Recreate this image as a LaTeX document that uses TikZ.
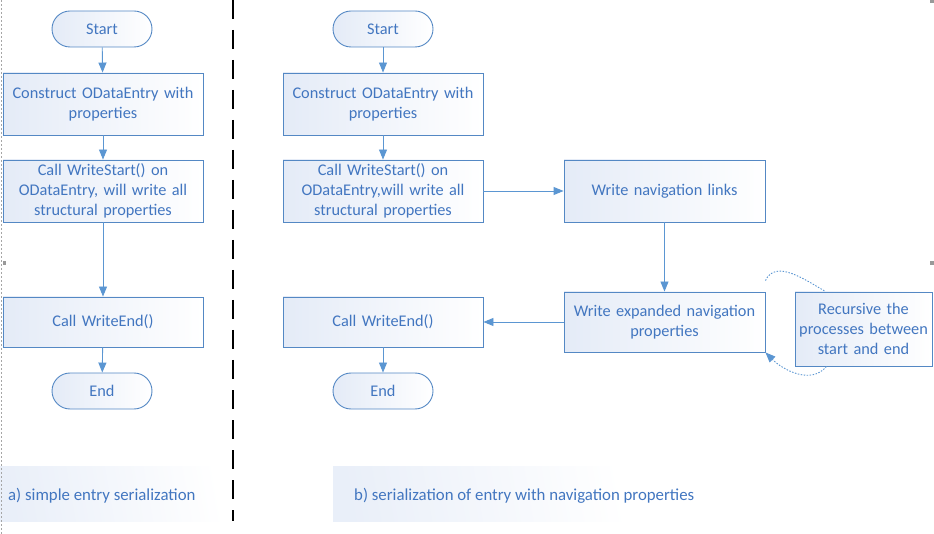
\documentclass[tikz,border=0pt]{standalone}
\usepackage{fontspec}
\setmainfont{Carlito}
\usetikzlibrary{arrows.meta}

\definecolor{flowblue}{RGB}{91,150,210}
\definecolor{boxline}{RGB}{84,136,196}
\definecolor{boxtext}{RGB}{66,118,192}
\definecolor{boxfill}{RGB}{228,235,247}

\begin{document}
\begin{tikzpicture}
		[x=1pt,y=-1pt,
		every node/.style={text=boxtext,font=\fontsize{16.3}{20}\selectfont,align=center,inner sep=0pt},
		shadedbox/.style={draw=boxline,line width=0.9pt,shading=axis,shading angle=135,left color=boxfill,right color=white},
		procbox/.style={shadedbox,minimum width=200pt,minimum height=62pt,text width=196pt},
		termbox/.style={shadedbox,rounded corners=18pt,minimum width=100pt,minimum height=36pt},
		captext/.style={anchor=west,font=\fontsize{16.8}{20}\selectfont},
		flow/.style={draw=flowblue,line width=0.9pt,-{Triangle[width=8pt,length=10pt]}},
		loopline/.style={draw=flowblue,line width=0.9pt,dash pattern=on 1.5pt off 1.5pt}]
		\useasboundingbox (0,0) rectangle (934,534);

		% captions
		\shade[left color=boxfill!80,right color=white,shading angle=100] (0,466) rectangle (232,521);
		\shade[left color=boxfill!80,right color=white,shading angle=100] (333,466) rectangle (640,521);
		\node[captext] (capa) at (8,496) {a) simple entry serialization};
		\node[captext] (capb) at (354,496) {b) serialization of entry with navigation properties};

		% separators
		\draw[black,line width=1.3pt,dash pattern=on 19pt off 11pt] (233,0) -- (233,521);
		\draw[gray!70,line width=0.6pt,dash pattern=on 2pt off 2pt] (1,0) -- (1,534);
		\fill[gray!80] (930,0) rectangle (934,3);
		\fill[gray!80] (930,261) rectangle (934,265);
		\fill[gray!80] (3,261) rectangle (6,265);

		% a) simple entry
		\node[termbox] (sa) at (102,29)  {Start};
		\node[procbox] (ca) at (103,104) {Construct ODataEntry with\\properties};
		\node[procbox] (wa) at (103,191) {Call WriteStart() on\\ODataEntry, will write all\\structural properties};
		\node[procbox,minimum height=50pt] (ea) at (103,322) {Call WriteEnd()};
		\node[termbox] (na) at (102,391) {End};

		% b) entry with navigation
		\node[termbox] (sb) at (383,29)  {Start};
		\node[procbox] (cb) at (383,104) {Construct ODataEntry with\\properties};
		\node[procbox] (wb) at (383,191) {Call WriteStart() on\\ODataEntry,will write all\\structural properties};
		\node[procbox,minimum height=50pt] (eb) at (383,322) {Call WriteEnd()};
		\node[termbox] (nb) at (383,391) {End};
		\node[procbox,minimum width=201pt] (lb) at (664.5,191) {Write navigation links};
		\node[procbox,minimum width=201pt,minimum height=60pt] (xb) at (664.5,322) {Write expanded navigation\\properties};
		\node[shadedbox,minimum width=137pt,minimum height=74pt,text width=135pt] (rb) at (863.5,329) {Recursive the\\processes between\\start and end};

		\foreach \from/\to in {sa/ca,ca/wa,wa/ea,ea/na,sb/cb,cb/wb,eb/nb,lb/xb}
		\draw[flow] (\from) -- (\to);
		\draw[flow] (wb.east) -- (lb.west);
		\draw[flow] (xb.west) -- (eb.east);

		\draw[loopline] ([yshift=11pt]xb.north east) to[out=65,in=150] ([xshift=31pt]rb.north west);
		\draw[loopline,-{Triangle[width=8pt,length=10pt]}] ([xshift=32pt]rb.south west) to[out=-130,in=-45] (xb.south east);
		\end{tikzpicture}
\end{document}
